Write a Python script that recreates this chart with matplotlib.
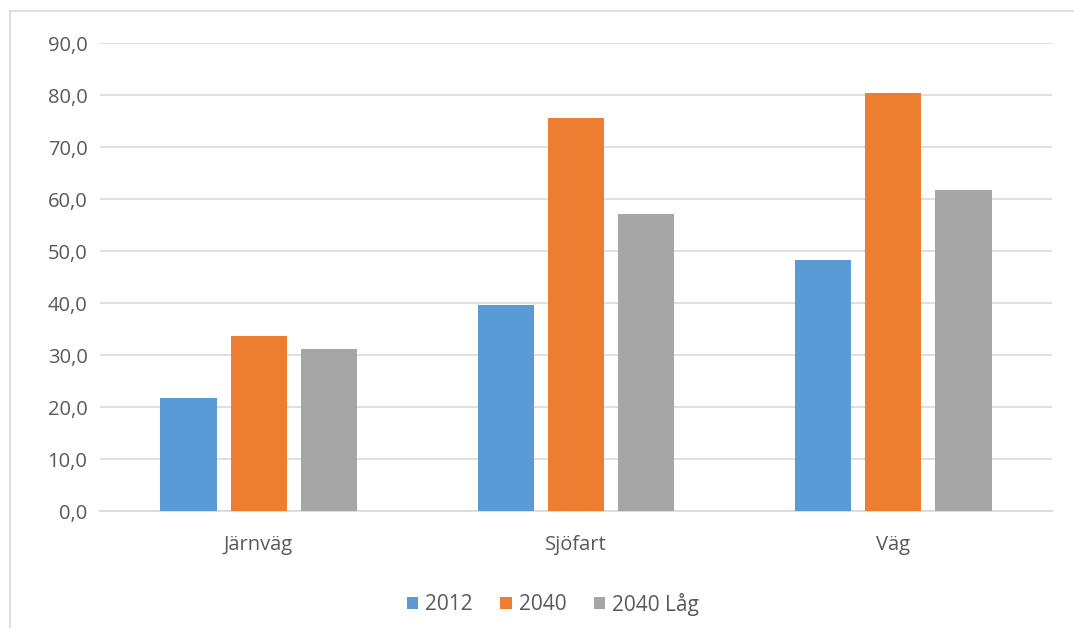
import matplotlib
matplotlib.use("Agg")
import matplotlib.pyplot as plt
import numpy as np
from matplotlib.ticker import FuncFormatter

categories = ["Järnväg", "Sjöfart", "Väg"]
series_names = ["2012", "2040", "2040 Låg"]
v2012 = [21.8, 39.6, 48.3]
v2040 = [33.6, 75.5, 80.3]
v2040_lag = [31.2, 57.2, 61.7]
colors = ["#5B9BD5", "#ED7D31", "#A5A5A5"]
yticks = [0, 10, 20, 30, 40, 50, 60, 70, 80, 90]

plt.rcParams['font.family'] = ['Open Sans', 'DejaVu Sans']
text_color = "#595959"

fig = plt.figure(figsize=(10.74, 6.28), dpi=100)
# outer chart border (top and left visible)
fig.add_artist(plt.Line2D([10/1074, 10/1074], [0, 1 - 11/628], transform=fig.transFigure,
                          color="#D9D9D9", lw=1.2))
fig.add_artist(plt.Line2D([10/1074, 1], [1 - 11/628, 1 - 11/628], transform=fig.transFigure,
                          color="#D9D9D9", lw=1.2))

ax = fig.add_axes([100/1074, 1 - 511/628, 952/1074, (511 - 43)/628])
x = np.arange(len(categories))
w = 0.177
off = 0.221
for i, (vals, name) in enumerate(zip([v2012, v2040, v2040_lag], series_names)):
    ax.bar(x + (i - 1) * off, vals, width=w, color=colors[i], label=name, zorder=3)

ax.set_xlim(-0.5, 2.5)
ax.set_ylim(0, 90)
ax.set_yticks(yticks)
ax.yaxis.set_major_formatter(FuncFormatter(lambda v, p: f"{v:.1f}".replace(".", ",")))
ax.grid(axis="y", color="#D9D9D9", lw=1.2, zorder=0)
ax.set_xticks(x)
ax.set_xticklabels(categories)
for s in ["top", "right", "left"]:
    ax.spines[s].set_visible(False)
ax.spines["bottom"].set_color("#D9D9D9")
ax.spines["bottom"].set_linewidth(1.2)
ax.tick_params(axis="both", length=0, labelsize=14.5, colors=text_color)
ax.tick_params(axis="y", pad=9)
ax.tick_params(axis="x", pad=17)

leg = fig.legend(loc="center", bbox_to_anchor=(553/1074, 1 - 604/628), ncol=3,
                 frameon=False, fontsize=15, handlelength=0.55, handleheight=0.55,
                 handletextpad=0.35, columnspacing=1.3)
for t in leg.get_texts():
    t.set_color(text_color)

fig.savefig("out.png", dpi=100)
